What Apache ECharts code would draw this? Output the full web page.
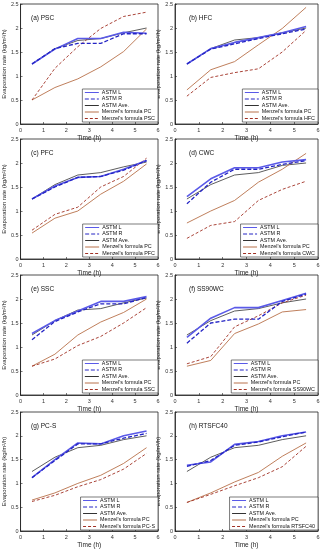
<!DOCTYPE html>
<html>
<head>
<meta charset="utf-8">
<script src="https://cdn.jsdelivr.net/npm/echarts@6/dist/echarts.min.js"></script>
<style>html,body{margin:0;padding:0;background:#fff;}#c{width:323px;height:550px;}</style>
</head>
<body>
<div id="c"></div>
<script>
// Time (h)
const times = [0.5, 1.5, 2.5, 3.5, 4.5, 5.5];
const xTicks = [0, 1, 2, 3, 4, 5, 6];
const yTicks = [0, 0.5, 1, 1.5, 2, 2.5];

const panelTitles = ['(a) PSC', '(b) HFC', '(c) PFC', '(d) CWC', '(e) SSC', '(f) SS90WC', '(g) PC-S', '(h) RTSFC40'];
const mixNames = ['PSC', 'HFC', 'PFC', 'CWC', 'SSC', 'SS90WC', 'PC-S', 'RTSFC40'];

// ASTM L
const astmL_a = [1.25, 1.56, 1.78, 1.78, 1.91, 1.89];
const astmL_b = [1.25, 1.57, 1.70, 1.80, 1.90, 2.03];
const astmL_c = [1.25, 1.52, 1.70, 1.72, 1.87, 2.05];
const astmL_d = [1.30, 1.67, 1.90, 1.90, 2.02, 2.07];
const astmL_e = [1.28, 1.55, 1.75, 1.95, 1.95, 2.05];
const astmL_f = [1.20, 1.60, 1.82, 1.82, 1.97, 2.12];
const astmL_g = [1.12, 1.50, 1.85, 1.83, 2.00, 2.10];
const astmL_h = [1.38, 1.45, 1.82, 1.88, 2.00, 2.08];
// ASTM R
const astmR_a = [1.25, 1.57, 1.68, 1.68, 1.88, 1.88];
const astmR_b = [1.25, 1.56, 1.67, 1.78, 1.88, 1.98];
const astmR_c = [1.25, 1.50, 1.70, 1.72, 1.85, 2.05];
const astmR_d = [1.15, 1.60, 1.87, 1.87, 1.97, 2.05];
const astmR_e = [1.15, 1.53, 1.73, 1.90, 1.90, 2.03];
const astmR_f = [1.08, 1.50, 1.58, 1.58, 1.95, 2.10];
const astmR_g = [1.12, 1.48, 1.83, 1.83, 1.95, 2.05];
const astmR_h = [1.36, 1.48, 1.80, 1.87, 1.98, 2.08];
// ASTM Ave.
const astmAve_a = [1.25, 1.57, 1.74, 1.78, 1.90, 2.00];
const astmAve_b = [1.25, 1.57, 1.75, 1.80, 1.90, 2.00];
const astmAve_c = [1.25, 1.55, 1.75, 1.80, 1.92, 2.02];
const astmAve_d = [1.25, 1.55, 1.75, 1.80, 1.95, 2.00];
const astmAve_e = [1.25, 1.55, 1.77, 1.80, 1.92, 2.02];
const astmAve_f = [1.25, 1.55, 1.75, 1.80, 1.92, 2.00];
const astmAve_g = [1.25, 1.55, 1.75, 1.80, 1.92, 2.00];
const astmAve_h = [1.25, 1.55, 1.75, 1.80, 1.92, 2.00];
// Menzel's formula PC
const menzelPC_a = [0.50, 0.76, 0.94, 1.19, 1.51, 1.98];
const menzelPC_b = [0.71, 1.13, 1.30, 1.65, 1.99, 2.43];
const menzelPC_c = [0.54, 0.85, 1.00, 1.35, 1.62, 1.98];
const menzelPC_d = [0.75, 1.00, 1.22, 1.60, 1.87, 2.20];
const menzelPC_e = [0.60, 0.85, 1.25, 1.52, 1.72, 2.00];
const menzelPC_f = [0.60, 0.72, 1.28, 1.48, 1.73, 1.78];
const menzelPC_g = [0.65, 0.80, 1.00, 1.17, 1.42, 1.75];
const menzelPC_h = [0.60, 0.80, 1.03, 1.23, 1.57, 1.85];
// Menzel's formula (mix)
const menzelMix_a = [0.50, 1.16, 1.61, 1.99, 2.24, 2.33];
const menzelMix_b = [0.58, 0.97, 1.07, 1.15, 1.50, 1.95];
const menzelMix_c = [0.60, 0.93, 1.08, 1.50, 1.72, 2.10];
const menzelMix_d = [0.43, 0.70, 0.78, 1.22, 1.45, 1.62];
const menzelMix_e = [0.60, 0.75, 1.03, 1.22, 1.50, 1.82];
const menzelMix_f = [0.65, 0.80, 1.42, 1.65, 1.92, 2.08];
const menzelMix_g = [0.62, 0.75, 0.93, 1.08, 1.30, 1.63];
const menzelMix_h = [0.60, 0.77, 0.95, 1.12, 1.35, 1.78];

const astmL = [astmL_a, astmL_b, astmL_c, astmL_d, astmL_e, astmL_f, astmL_g, astmL_h];
const astmR = [astmR_a, astmR_b, astmR_c, astmR_d, astmR_e, astmR_f, astmR_g, astmR_h];
const astmAve = [astmAve_a, astmAve_b, astmAve_c, astmAve_d, astmAve_e, astmAve_f, astmAve_g, astmAve_h];
const menzelPC = [menzelPC_a, menzelPC_b, menzelPC_c, menzelPC_d, menzelPC_e, menzelPC_f, menzelPC_g, menzelPC_h];
const menzelMix = [menzelMix_a, menzelMix_b, menzelMix_c, menzelMix_d, menzelMix_e, menzelMix_f, menzelMix_g, menzelMix_h];

const cols = [{ left: 17, width: 141 }, { left: 175, width: 143 }];
const rowTops = [4, 139, 275, 412];
const plotH = 120;
const W = 323;
const FONT = 'Liberation Sans, Arial, sans-serif';

const grids = [], xAxes = [], yAxes = [], series = [], legends = [], titles = [];
const pair = (arr) => times.map((t, i) => [t, arr[i]]);

for (let p = 0; p < 8; p++) {
  const c = cols[p % 2];
  const top = rowTops[Math.floor(p / 2)];
  grids.push({ left: c.left, top: top, width: c.width, height: plotH, show: true, borderColor: '#222', borderWidth: 0.8, backgroundColor: 'transparent' });
  xAxes.push({
    type: 'value', gridIndex: p, min: xTicks[0], max: xTicks[xTicks.length - 1], interval: 1,
    name: 'Time (h)', nameLocation: 'middle', nameGap: 11,
    nameTextStyle: { fontSize: 6.5, color: '#222', fontFamily: FONT },
    axisLine: { show: true, lineStyle: { color: '#222', width: 0.8 } },
    axisTick: { show: true, inside: true, length: 2, lineStyle: { color: '#222', width: 0.6 } },
    axisLabel: { fontSize: 5.5, color: '#333', margin: 3, fontFamily: FONT },
    splitLine: { show: false }
  });
  yAxes.push({
    type: 'value', gridIndex: p, min: yTicks[0], max: yTicks[yTicks.length - 1], interval: 0.5,
    name: 'Evaporation rate (kg/m²/h)', nameLocation: 'middle', nameGap: 10,
    nameTextStyle: { fontSize: 6, color: '#222', fontFamily: FONT },
    axisLine: { show: true, lineStyle: { color: '#222', width: 0.8 } },
    axisTick: { show: true, inside: true, length: 2, lineStyle: { color: '#222', width: 0.6 } },
    axisLabel: { fontSize: 5.5, color: '#333', margin: 2, fontFamily: FONT },
    splitLine: { show: false }
  });
  titles.push({
    text: panelTitles[p], left: c.left + 9, top: top + 6,
    textStyle: { fontSize: 6.5, fontWeight: 'normal', color: '#111', fontFamily: FONT }
  });
  const mixName = "Menzel's formula " + mixNames[p];
  const common = { type: 'line', xAxisIndex: p, yAxisIndex: p, symbol: 'none', showSymbol: false, silent: true, animation: false };
  series.push(Object.assign({}, common, { name: 'ASTM L', data: pair(astmL[p]), z: 3, lineStyle: { color: '#5a5ae8', width: 1.6, type: 'solid' }, itemStyle: { color: '#5a5ae8' } }));
  series.push(Object.assign({}, common, { name: 'ASTM R', data: pair(astmR[p]), z: 4, lineStyle: { color: '#2424c4', width: 1.3, type: [4, 2] }, itemStyle: { color: '#2424c4' } }));
  series.push(Object.assign({}, common, { name: 'ASTM Ave.', data: pair(astmAve[p]), z: 2, lineStyle: { color: '#333333', width: 0.8, type: 'solid' }, itemStyle: { color: '#333333' } }));
  series.push(Object.assign({}, common, { name: "Menzel's formula PC", data: pair(menzelPC[p]), z: 2, lineStyle: { color: '#b8704a', width: 0.9, type: 'solid' }, itemStyle: { color: '#b8704a' } }));
  series.push(Object.assign({}, common, { name: mixName, data: pair(menzelMix[p]), z: 2, lineStyle: { color: '#a03024', width: 0.9, type: [3, 2] }, itemStyle: { color: '#a03024' } }));
  legends.push({
    orient: 'vertical', right: W - (c.left + c.width), top: top + 85,
    data: ['ASTM L', 'ASTM R', 'ASTM Ave.', "Menzel's formula PC", mixName],
    itemWidth: 14, itemHeight: 5, itemGap: 1.5, padding: [1, 3, 1, 2],
    borderColor: '#222', borderWidth: 0.6, borderRadius: 0, backgroundColor: '#fff',
    selectedMode: false,
    itemStyle: { opacity: 0 },
    lineStyle: { width: 1 },
    textStyle: { fontSize: 5.4, color: '#111', fontFamily: FONT, padding: [0, 0, 0, -2] }
  });
}

const chart = echarts.init(document.getElementById('c'), null, { renderer: 'canvas' });
chart.setOption({
  animation: false,
  backgroundColor: '#fff',
  title: titles,
  grid: grids,
  xAxis: xAxes,
  yAxis: yAxes,
  legend: legends,
  series: series
});
</script>
</body>
</html>
